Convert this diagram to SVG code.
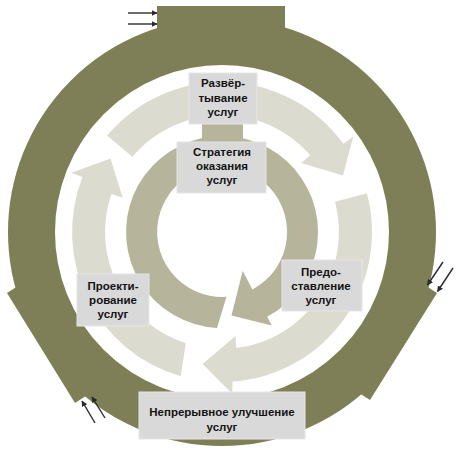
<svg xmlns="http://www.w3.org/2000/svg" width="458" height="450" viewBox="0 0 458 450">
<defs>
<style>
.olive{fill:#7f7f57}
.mid{fill:#dcdbcf}
.inner{fill:#b6b49b}
.box{fill:#d9d9d9;stroke:#e6e6e6;stroke-width:1}
.lbl{font-family:"Liberation Sans",Arial,sans-serif;font-weight:bold;font-size:11.5px;fill:#141414;text-anchor:middle}
.arr{stroke:#2b2b2b;stroke-width:1.4;fill:none;marker-end:url(#ah)}
</style>
<marker id="ah" viewBox="0 0 10 10" refX="9" refY="5" markerWidth="6" markerHeight="6" markerUnits="userSpaceOnUse" orient="auto">
<path d="M0,0 L10,5 L0,10 Z" fill="#2b2b2b"/>
</marker>
</defs>
<rect width="458" height="450" fill="#ffffff"/>
<g id="outer-ring">
<circle cx="222" cy="232" r="190.5" fill="none" stroke="#7f7f57" stroke-width="47"/>
<rect class="olive" x="157" y="6" width="128" height="40"/>
<polygon class="olive" points="7,293 75,403 104.5,384 36.5,274"/>
<polygon class="olive" points="437,293 370,400 340.4,381.3 407.4,274.3"/>
</g>
<g id="middle-ring">
<path class="mid" d="M107.1,135.6 A150,150 0 0 1 343.4,143.8 L353.1,136.8 L343,175.6 L301.2,163.1 L310.3,155.2 A117,117 0 0 0 132.4,156.8 Z"/>
<path class="mid" d="M366.9,193.2 A150,150 0 0 1 232.5,381.6 L232.2,393.7 L202.7,364.1 L235.5,336 L236.3,348.1 A117,117 0 0 0 335,201.7 Z"/>
<path class="mid" d="M180.7,376.2 A150,150 0 0 1 82.5,177.1 L71.3,172.7 L110.5,158.5 L122.7,197.8 L111.4,193.9 A117,117 0 0 0 185.8,343.3 Z"/>
</g>
<g id="inner-ring">
<rect class="inner" x="202" y="118" width="41" height="28"/>
<path class="inner" d="M217,327.9 A96,96 0 1 1 267.1,316.8 L271.8,325.6 L231.5,315.5 L242.7,270.9 L252.5,289.4 A65,65 0 1 0 226.5,296.8 Z"/>
</g>
<g id="connectors">
<line class="arr" x1="128" y1="13" x2="157" y2="13"/>
<line class="arr" x1="128" y1="24" x2="157" y2="24"/>
<line class="arr" x1="443" y1="262" x2="427.5" y2="285"/>
<line class="arr" x1="453" y1="268" x2="437.5" y2="291.5"/>
<line class="arr" x1="95" y1="423" x2="82" y2="401"/>
<line class="arr" x1="105" y1="418" x2="92" y2="397"/>
</g>
<g id="node-deploy">
<rect class="box" x="189" y="73" width="68" height="51"/>
<text class="lbl" x="223" y="87">Развёр-</text>
<text class="lbl" x="223" y="102">тывание</text>
<text class="lbl" x="223" y="116">услуг</text>
</g>
<g id="node-strategy">
<rect class="box" x="177" y="142" width="89" height="51"/>
<text class="lbl" x="222" y="156">Стратегия</text>
<text class="lbl" x="222" y="170">оказания</text>
<text class="lbl" x="222" y="184">услуг</text>
</g>
<g id="node-operation">
<rect class="box" x="282" y="260" width="80" height="51"/>
<text class="lbl" x="321" y="276">Предо-</text>
<text class="lbl" x="321" y="290">ставление</text>
<text class="lbl" x="321" y="304">услуг</text>
</g>
<g id="node-design">
<rect class="box" x="77" y="274" width="72" height="52"/>
<text class="lbl" x="113" y="290">Проекти-</text>
<text class="lbl" x="113" y="304">рование</text>
<text class="lbl" x="113" y="318">услуг</text>
</g>
<g id="node-improvement">
<rect class="box" x="139" y="392" width="166" height="47"/>
<text class="lbl" x="222" y="416">Непрерывное улучшение</text>
<text class="lbl" x="222" y="431">услуг</text>
</g>
</svg>
